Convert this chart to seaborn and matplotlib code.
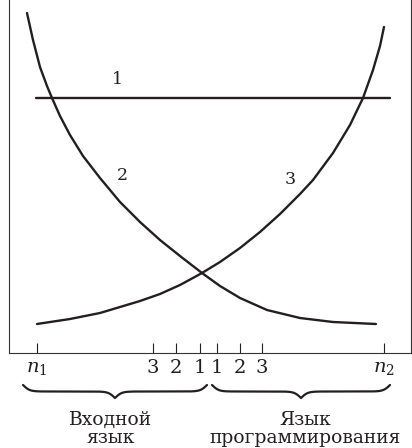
import numpy as np
import pandas as pd
import matplotlib
matplotlib.use("Agg")
import matplotlib.pyplot as plt
import seaborn as sns

# values (x position, height above the axis)
x_line1 = [36, 390]
h_line1 = [255, 255]

x_curve2 = [27, 33, 40, 47, 52, 60, 70, 83, 100, 120, 140, 160, 180, 202, 220, 240, 267, 300, 333, 376]
h_curve2 = [340, 313, 286, 267, 255, 237, 218, 197, 175, 151, 131, 113, 97, 80, 67, 55, 43, 35, 31, 29]

x_curve3 = [37, 70, 100, 120, 140, 160, 180, 202, 220, 240, 260, 280, 300, 313, 333, 350, 363, 373, 380, 384]
h_curve3 = [29, 34, 40, 46, 52, 59, 68, 80, 91, 105, 121, 139, 159, 173, 200, 228, 255, 283, 307, 326]

tick_pos = [37, 153, 176, 200, 217, 240, 262, 384]
tick_labels = ["$n_1$", "3", "2", "1", "1", "2", "3", "$n_2$"]

curve_names = ["1", "2", "3"]
name_pos = [(117, 273), (122, 178), (290, 173)]

groups = ["Входной\nязык", "Язык\nпрограммирования"]
group_span = [(23, 207), (212, 390)]
group_center = [111, 305]

sns.set_theme(style="white")
plt.rcParams["font.family"] = ["DejaVu Serif"]
plt.rcParams["mathtext.fontset"] = "dejavuserif"

ink = "#231f20"

fig = plt.figure(figsize=(4.12, 4.48), dpi=100)
ax = fig.add_axes([9 / 412, 95 / 448, 402 / 412, 353 / 448])

for xs, hs in [(x_line1, h_line1), (x_curve2, h_curve2), (x_curve3, h_curve3)]:
    df = pd.DataFrame({"x": xs, "h": hs})
    sns.lineplot(data=df, x="x", y="h", sort=False, estimator=None,
                 color=ink, lw=1.7, ax=ax)

for name, (px, py) in zip(curve_names, name_pos):
    ax.text(px, py, name, fontsize=12.5, ha="center", va="center", color=ink)

ax.set_xlim(9, 411)
ax.set_ylim(0, 353)
ax.set_xticks(tick_pos)
ax.set_xticklabels(tick_labels, fontsize=14, color=ink)
ax.set_yticks([])
ax.set_xlabel("")
ax.set_ylabel("")
ax.tick_params(axis="x", direction="in", length=7, width=0.8, color=ink,
               pad=4, bottom=True)
ax.spines["top"].set_visible(False)
for s in ["left", "right", "bottom"]:
    ax.spines[s].set_color("#333333")
    ax.spines[s].set_linewidth(0.8)


# curly braces under the axis (figure pixels, y counted from the top)
def brace(x0, x1, y_top, depth, beta=0.3):
    hw = (x1 - x0) / 2
    t = np.linspace(0, hw, 300)
    yh = 1 / (1 + np.exp(-beta * (t - t[0]))) + 1 / (1 + np.exp(-beta * (t - t[-1])))
    yh = yh - yh[0]
    yh = yh / yh[-1]
    xs = np.concatenate([x0 + t, x0 + hw + t])
    ys = y_top + depth * np.concatenate([yh, yh[::-1]])
    fig.add_artist(plt.Line2D(xs / 412, 1 - ys / 448, color=ink, lw=1.6))


for (x0, x1) in group_span:
    brace(x0, x1, 385, 13)

for txt, cx in zip(groups, group_center):
    fig.text(cx / 412, 1 - 429 / 448, txt, ha="center", va="center",
             fontsize=13.5, color=ink, linespacing=0.95)

fig.savefig("out.png", dpi=100)
